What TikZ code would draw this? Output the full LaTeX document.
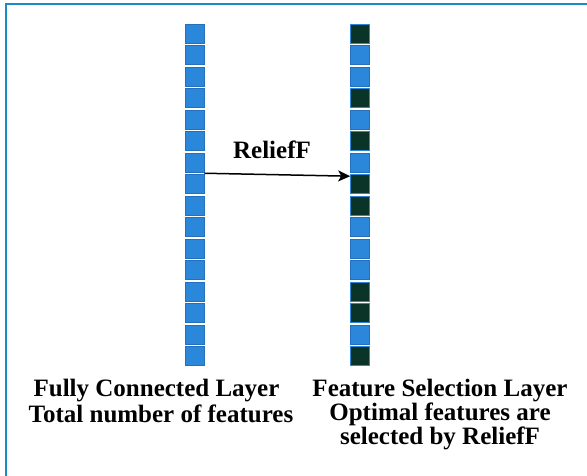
\documentclass[tikz,border=0pt]{standalone}
\usepackage{fontspec}
\setmainfont{Liberation Serif}
\usetikzlibrary{arrows.meta,calc}
\definecolor{frame}{RGB}{28,138,196}
\definecolor{cellblue}{RGB}{43,135,218}
\definecolor{celldark}{RGB}{10,52,40}
\definecolor{celledge}{RGB}{36,112,190}
\begin{document}
\begin{tikzpicture}[x=1pt,y=-1pt,
  cell/.style={draw=celledge, line width=0.6pt, minimum width=19pt, minimum height=19pt, inner sep=0pt},
  lt/.style={cell, fill=cellblue},
  dk/.style={cell, fill=celldark, draw=cellblue},
  lbl/.style={font=\bfseries\fontsize{25}{27}\selectfont, anchor=base, inner sep=0pt}]
\useasboundingbox (0,0) rectangle (587,476);
\fill[white] (0,0) rectangle (587,476);
\draw[frame, line width=2.5pt] (6,476) -- (6,4) -- (587,4);
\foreach \i in {1,...,16}
  \node[lt] (L\i) at (194.5, {33.5+21.5*(\i-1)}) {};
\foreach \i/\s in {1/dk,2/lt,3/lt,4/dk,5/lt,6/dk,7/lt,8/dk,9/dk,10/lt,11/lt,12/lt,13/dk,14/dk,15/lt,16/dk}
  \node[\s] (R\i) at (360, {33.5+21.5*(\i-1)}) {};
\coordinate (start) at ($(L7.south east)!0.5!(L8.north east)$);
\coordinate (stop) at ($(R8.north west)+(0,2)$);
\draw[-{Stealth[length=12pt,width=11pt,inset=3pt]}, line width=1.5pt] (start) -- (stop);
\node[lbl] (relief) at (272,159) {ReliefF};
\node[lbl] (fc1) at (156.5,396) {Fully Connected Layer};
\node[lbl] (fc2) at (161,422) {Total number of features};
\node[lbl] (fs1) at (440,396) {Feature Selection Layer};
\node[lbl] (fs2) at (440,420) {Optimal features are};
\node[lbl] (fs3) at (440,444) {selected by ReliefF};
\end{tikzpicture}
\end{document}
